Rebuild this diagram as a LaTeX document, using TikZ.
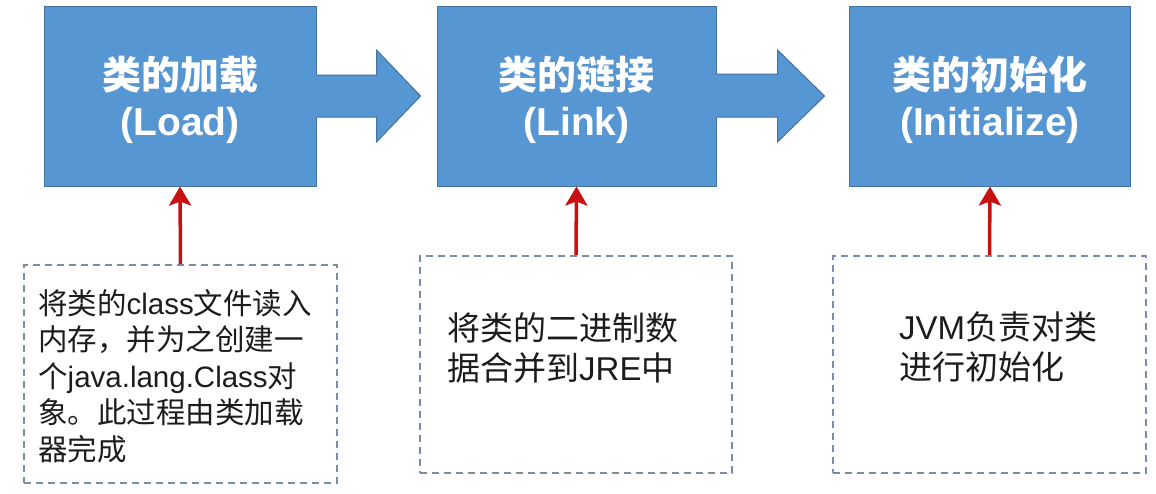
\documentclass[tikz,border=0pt]{standalone}
\usepackage{fontspec}
\setmainfont{Liberation Sans}
\newfontfamily\zhfont{Noto Sans CJK SC}
\usetikzlibrary{arrows.meta,calc}
\definecolor{boxfill}{RGB}{86,150,210}
\definecolor{boxline}{RGB}{66,114,160}
\definecolor{arrred}{RGB}{200,16,16}
\definecolor{dashcol}{RGB}{120,142,168}
\definecolor{bodytext}{RGB}{28,28,28}
\newcommand\zh[1]{{\zhfont #1}}
\begin{document}
\begin{tikzpicture}[x=1pt,y=-1pt,
  stage/.style={draw=boxline, fill=boxfill, line width=1pt, minimum height=180pt,
    inner sep=0pt},
  stagetitle/.style={inner sep=0pt, text=white, align=center,
    font=\fontsize{39}{46}\selectfont\bfseries},
  note/.style={draw=dashcol, line width=1.9pt, dash pattern=on 7pt off 5pt,
    minimum height=217pt, inner sep=0pt},
  notetext/.style={anchor=north west, inner sep=0pt, align=left, text=bodytext},
  redarr/.style={draw=arrred, line width=3.5pt,
    -{Stealth[length=19pt,width=22pt,inset=4pt]}},
  blockarr/.style={draw=boxline, line width=1pt, line join=miter}
]
\useasboundingbox (0,0) rectangle (1156,493);

% stage boxes
\node[stage, minimum width=272pt] (b1) at (180,96) {};
\node[stage, minimum width=279pt] (b2) at (576.5,96) {};
\node[stage, minimum width=281pt] (b3) at (990,96) {};
\node[stagetitle] (t1) at ($(b1.center)+(0,4)$) {\zh{类的加载}\\(Load)};
\node[stagetitle] (t2) at ($(b2.center)+(0,4)$) {\zh{类的链接}\\(Link)};
\node[stagetitle] (t3) at ($(b3.center)+(0,4)$) {\zh{类的初始化}\\(Initialize)};

% block arrows between stages
\fill[boxfill] ($(b1.east)+(-0.5,-21)$) -- ($(b1.east)+(60,-21)$) -- ($(b1.east)+(60,-46)$)
  -- ($(b1.east)+(104,0)$) -- ($(b1.east)+(60,46)$) -- ($(b1.east)+(60,21)$)
  -- ($(b1.east)+(-0.5,21)$) -- cycle;
\draw[blockarr] ($(b1.east)+(0,-21)$) -- ($(b1.east)+(60,-21)$) -- ($(b1.east)+(60,-46)$)
  -- ($(b1.east)+(104,0)$) -- ($(b1.east)+(60,46)$) -- ($(b1.east)+(60,21)$)
  -- ($(b1.east)+(0,21)$);

\fill[boxfill] ($(b2.east)+(-0.5,-22)$) -- ($(b2.east)+(61,-22)$) -- ($(b2.east)+(61,-46)$)
  -- ($(b2.east)+(108,0)$) -- ($(b2.east)+(61,46)$) -- ($(b2.east)+(61,21)$)
  -- ($(b2.east)+(-0.5,21)$) -- cycle;
\draw[blockarr] ($(b2.east)+(0,-22)$) -- ($(b2.east)+(61,-22)$) -- ($(b2.east)+(61,-46)$)
  -- ($(b2.east)+(108,0)$) -- ($(b2.east)+(61,46)$) -- ($(b2.east)+(61,21)$)
  -- ($(b2.east)+(0,21)$);

% dashed note boxes
\node[note, minimum width=313pt, minimum height=218pt] (dA) at (180.5,374) {};
\node[note, minimum width=312pt] (dB) at (576,364.5) {};
\node[note, minimum width=313pt] (dC) at (989.5,364.5) {};

% note texts
\node[notetext, font=\fontsize{29.5}{36.5}\selectfont] (tA) at (38,289)
  {\zh{将类的}class\zh{文件读入}\\\zh{内存，并为之创建一}\\\zh{个}java.lang.Class\zh{对}\\\zh{象。此过程由类加载}\\\zh{器完成}};
\node[notetext, font=\fontsize{33}{40}\selectfont] (tB) at (447,312)
  {\zh{将类的二进制数}\\\zh{据合并到}JRE\zh{中}};
\node[notetext, font=\fontsize{33}{40}\selectfont] (tC) at (899,312)
  {JVM\zh{负责对类}\\\zh{进行初始化}};

% red arrows
\draw[redarr] (dA.north) -- (b1.south);
\draw[redarr] (dB.north) -- (b2.south);
\draw[redarr] (dC.north) -- (b3.south);
\end{tikzpicture}
\end{document}
